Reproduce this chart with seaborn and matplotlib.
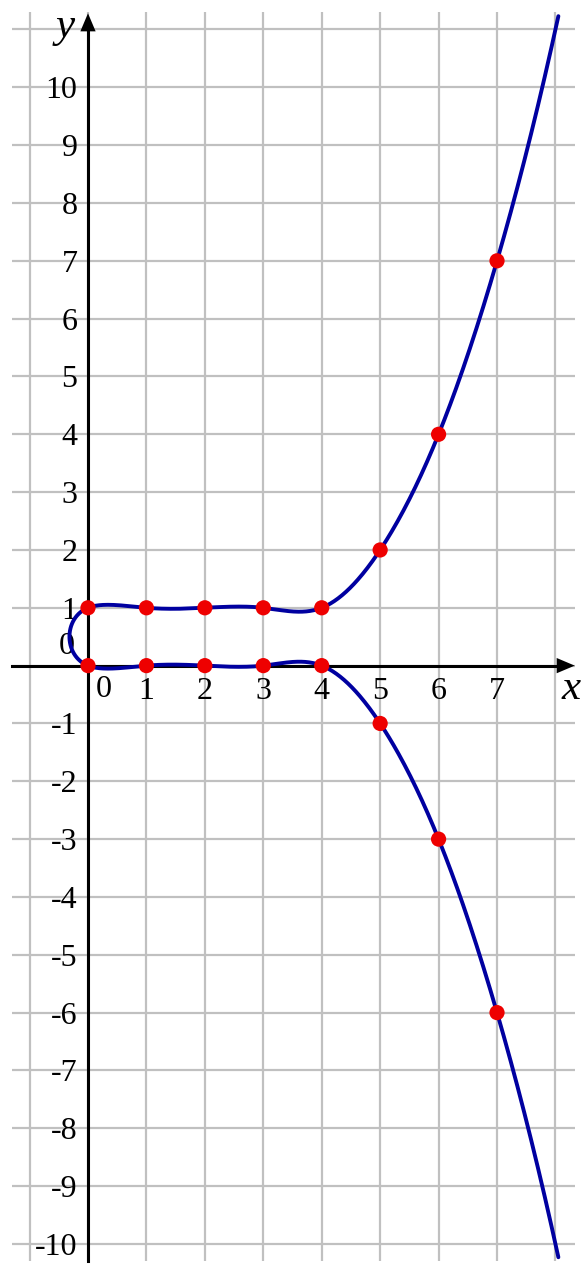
import numpy as np
import pandas as pd
import matplotlib
matplotlib.use("Agg")
import matplotlib.pyplot as plt
import seaborn as sns

# marked points on the two branches
x_pts = [0, 1, 2, 3, 4, 5, 6, 7]
upper = [1, 1, 1, 1, 1, 2, 4, 7]
lower = [0, 0, 0, 0, 0, -1, -3, -6]
# where the curve keeps going past the last marked points
x_ext = [8, 9]
upper_ext = [11, 16]
lower_ext = [-10, -15]

x_ticks = [1, 2, 3, 4, 5, 6, 7]
y_ticks = [-10, -9, -8, -7, -6, -5, -4, -3, -2, -1, 1, 2, 3, 4, 5, 6, 7, 8, 9, 10]


def natural_spline(knots, vals, n=60):
    # natural cubic spline on given knots
    t = np.asarray(knots, float)
    v = np.asarray(vals, float)
    k = len(v) - 1
    h = np.diff(t)
    A = np.zeros((k + 1, k + 1))
    b = np.zeros(k + 1)
    A[0, 0] = A[k, k] = 1
    for i in range(1, k):
        A[i, i - 1] = h[i - 1]
        A[i, i] = 2 * (h[i - 1] + h[i])
        A[i, i + 1] = h[i]
        b[i] = 6 * ((v[i + 1] - v[i]) / h[i] - (v[i] - v[i - 1]) / h[i - 1])
    M = np.linalg.solve(A, b)
    out = []
    for i in range(k):
        s = np.linspace(t[i], t[i + 1], n, endpoint=False)
        a, c = t[i + 1] - s, s - t[i]
        seg = (M[i] * a ** 3 / (6 * h[i]) + M[i + 1] * c ** 3 / (6 * h[i])
               + (v[i] / h[i] - M[i] * h[i] / 6) * a
               + (v[i + 1] / h[i] - M[i + 1] * h[i] / 6) * c)
        out.append(seg)
    out.append([v[-1]])
    return np.concatenate(out)


# path: top right -> upper branch leftwards -> loop -> lower branch rightwards
path_x = (x_ext[::-1] + x_pts[::-1] + x_pts + x_ext)
path_y = (upper_ext[::-1] + upper[::-1] + lower + lower_ext)
steps = np.ones(len(path_x) - 1)
steps[len(steps) // 2] = 1.7  # the loop round the left end is longer
knots = np.concatenate([[0], np.cumsum(steps)])
cx = natural_spline(knots, path_x)
cy = natural_spline(knots, path_y)
keep = (cy <= 11.28) & (cy >= -10.3)
curve = pd.DataFrame({"x": cx[keep], "y": cy[keep]})

dots = pd.DataFrame({"x": x_pts + x_pts, "y": upper + lower})

sns.set_style("white")
plt.rcParams["font.family"] = ["Liberation Serif", "DejaVu Serif"]
plt.rcParams["axes.unicode_minus"] = False
plt.rcParams["text.color"] = "black"
plt.rcParams["xtick.color"] = "black"
plt.rcParams["ytick.color"] = "black"

fig = plt.figure(figsize=(5.87, 12.74), dpi=100)
ax = fig.add_axes([0, 0, 1, 1])
ax.set_xlim(-1.506, 8.54)
ax.set_ylim(-10.52, 11.51)

# grid
ax.hlines(range(-10, 12), -1.3, 8.34, color="#c0c0c0", lw=1.6, zorder=0)
ax.vlines(range(-1, 9), -10.3, 11.3, color="#c0c0c0", lw=1.6, zorder=0)

# axes through the origin
for side in ["top", "right"]:
    ax.spines[side].set_visible(False)
ax.spines["left"].set_position(("data", 0))
ax.spines["bottom"].set_position(("data", 0))
ax.spines["left"].set_bounds(-10.3, 11.0)
ax.spines["bottom"].set_bounds(-1.3, 8.1)
for side in ["left", "bottom"]:
    ax.spines[side].set_linewidth(2.2)
    ax.spines[side].set_color("black")
    ax.spines[side].set_zorder(1)
ax.annotate("", xy=(0, 11.28), xytext=(0, 10.9),
            arrowprops=dict(arrowstyle="-|>,head_length=1.3,head_width=0.55",
                            color="black", lw=0, shrinkA=0, shrinkB=0))
ax.annotate("", xy=(8.33, 0), xytext=(7.9, 0),
            arrowprops=dict(arrowstyle="-|>,head_length=1.3,head_width=0.55",
                            color="black", lw=0, shrinkA=0, shrinkB=0))

ax.set_xticks(x_ticks)
ax.set_yticks(y_ticks)
ax.tick_params(direction="inout", length=11, width=1.6, labelsize=23)
ax.tick_params(axis="x", pad=3)
ax.tick_params(axis="y", pad=2)

ax.text(0.27, -0.16, "0", fontsize=23, ha="center", va="top")
ax.text(-0.22, 0.33, "0", fontsize=23, ha="right", va="center")
ax.text(-0.22, 11.05, "y", fontsize=31, style="italic", ha="right", va="center")
ax.text(8.27, -0.4, "x", fontsize=31, style="italic", ha="center", va="center")

sns.lineplot(data=curve, x="x", y="y", sort=False, estimator=None,
             color="#0000a0", lw=2.8, ax=ax, zorder=3)
sns.scatterplot(data=dots, x="x", y="y", color="#ee0000", s=120,
                edgecolor="none", ax=ax, zorder=4)
ax.set_xlabel("")
ax.set_ylabel("")

fig.savefig("out.png", dpi=100)
